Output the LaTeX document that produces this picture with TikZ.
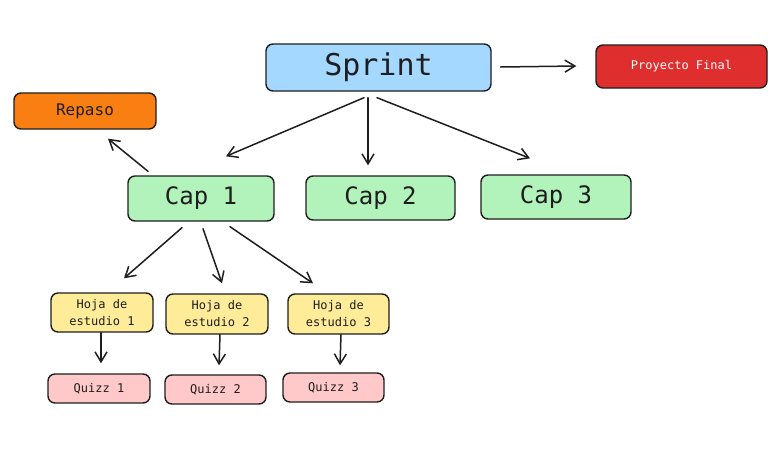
\documentclass[tikz,border=0pt]{standalone}
\usepackage{fontspec}
\newfontfamily\mono{DejaVu Sans Mono}
\usetikzlibrary{arrows.meta,calc}
\definecolor{ink}{HTML}{1E1E1E}
\definecolor{cblue}{HTML}{A5D8FF}
\definecolor{cred}{HTML}{DE2E2E}
\definecolor{corange}{HTML}{F97F12}
\definecolor{cgreen}{HTML}{B2F2BB}
\definecolor{cyellow}{HTML}{FFEC99}
\definecolor{cpink}{HTML}{FFC9C9}
\tikzset{
  box/.style={draw=ink, line width=1.4pt, rounded corners=7pt, rectangle, inner sep=0pt, align=center, text=ink},
  arr/.style={draw=ink, line width=1.5pt, line cap=round, -{Straight Barb[length=10pt,width=12pt,line width=1.5pt]}},
  big/.style={font=\mono\fontsize{30}{34}\selectfont},
  mid/.style={font=\mono\fontsize{24}{28}\selectfont},
  rep/.style={font=\mono\fontsize{16}{19}\selectfont},
  small/.style={font=\mono\fontsize{12}{17}\selectfont},
}
\begin{document}
\begin{tikzpicture}[x=1pt,y=-1pt]
\useasboundingbox[fill=white] (0,0) rectangle (774,453);
% nodes
\node[box, big, fill=cblue, minimum width=225pt, minimum height=47pt] (sprint) at (378.5,67.5) {Sprint};
\node[box, small, fill=cred, text=white, minimum width=171pt, minimum height=43pt] (proy) at (681.5,66.5) {Proyecto Final};
\node[box, rep, fill=corange, minimum width=142pt, minimum height=36pt] (repaso) at (85,111) {Repaso};
\node[box, mid, fill=cgreen, minimum width=146pt, minimum height=45pt] (cap1) at (201,198.5) {Cap 1};
\node[box, mid, fill=cgreen, minimum width=149pt, minimum height=44pt] (cap2) at (380.5,198) {Cap 2};
\node[box, mid, fill=cgreen, minimum width=150pt, minimum height=44pt] (cap3) at (556,197) {Cap 3};
\node[box, small, fill=cyellow, minimum width=102pt, minimum height=39pt] (hoja1) at (102,312.5) {Hoja de\\estudio 1};
\node[box, small, fill=cyellow, minimum width=102pt, minimum height=40pt] (hoja2) at (217,314) {Hoja de\\estudio 2};
\node[box, small, fill=cyellow, minimum width=101pt, minimum height=40pt] (hoja3) at (338.5,314) {Hoja de\\estudio 3};
\node[box, small, fill=cpink, minimum width=102pt, minimum height=29pt] (quizz1) at (99,388.5) {Quizz 1};
\node[box, small, fill=cpink, minimum width=101pt, minimum height=29pt] (quizz2) at (215.5,389.5) {Quizz 2};
\node[box, small, fill=cpink, minimum width=101pt, minimum height=29pt] (quizz3) at (333.5,387.5) {Quizz 3};
% connectors
\draw[arr] ($(sprint.east)+(9,-0.5)$) -- ($(proy.west)+(-19,-0.5)$);
\draw[arr] ($(sprint.south)+(-14.5,6)$) -- ($(cap1.north)+(25,-19)$);
\draw[arr] ($(sprint.south)+(-10.5,6)$) -- ($(cap2.north)+(-12.5,-10)$);
\draw[arr] ($(sprint.south)+(-1.5,6)$) -- ($(cap3.north)+(-26,-16)$);
\draw[arr] ($(cap1.north)+(-53,-4)$) -- ($(repaso.south)+(23,9)$);
\draw[arr] ($(cap1.south)+(-19,6)$) -- ($(hoja1.north)+(22,-14)$);
\draw[arr] ($(cap1.south)+(2,7)$) -- ($(hoja2.north)+(5,-10)$);
\draw[arr] ($(cap1.south)+(29,5)$) -- ($(hoja3.north)+(-25.5,-10)$);
\draw[arr] ($(hoja1.south)+(-1,0)$) -- ($(quizz1.north)+(2,-10)$);
\draw[arr] ($(hoja2.south)+(3,0)$) -- ($(quizz2.north)+(3.5,-9)$);
\draw[arr] ($(hoja3.south)+(2.5,0)$) -- ($(quizz3.north)+(6.5,-7)$);
\end{tikzpicture}
\end{document}
